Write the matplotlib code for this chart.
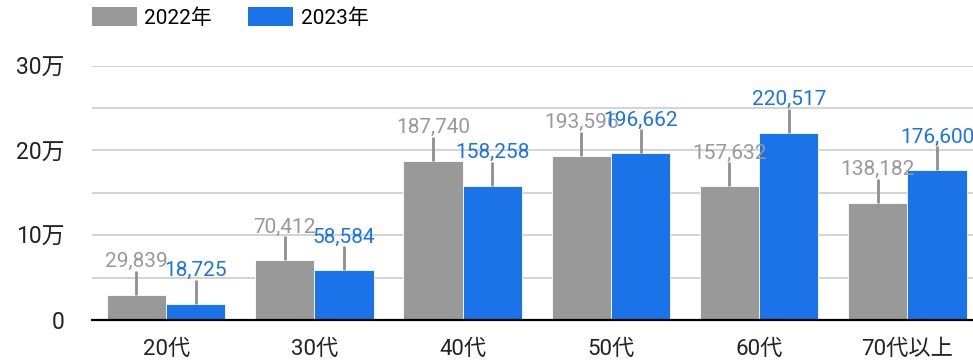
import matplotlib
matplotlib.use("Agg")
import matplotlib.pyplot as plt
import numpy as np
from matplotlib.patches import Patch

plt.rcParams['font.family'] = ['Roboto', 'Noto Sans CJK JP', 'DejaVu Sans']

categories = ["20代", "30代", "40代", "50代", "60代", "70代以上"]
series_names = ["2022年", "2023年"]
values_2022 = [29839, 70412, 187740, 193596, 157632, 138182]
values_2023 = [18725, 58584, 158258, 196662, 220517, 176600]
error_2022 = [28500, 28500, 28500, 28500, 28500, 28500]
error_2023 = [28500, 28500, 28500, 28500, 28500, 28500]
ytick_values = [0, 100000, 200000, 300000]
ytick_labels = ["0", "10万", "20万", "30万"]

W, H = 973, 362
fig = plt.figure(figsize=(W / 100, H / 100), dpi=100)
left_px, right_px = 92, 981.5
top_px, bottom_px = 65.7, 320
ax = fig.add_axes([left_px / W, 1 - bottom_px / H, (right_px - left_px) / W, (bottom_px - top_px) / H])

gray = "#999999"
blue = "#1a73e8"
err_color = "#8f8f8f"
x = np.arange(len(categories))
bw = 0.4

series = [(values_2022, error_2022, gray, -bw / 2), (values_2023, error_2023, blue, bw / 2)]
for vals, errs, col, off in series:
    ax.bar(x + off, vals, width=bw, color=col, edgecolor="white", linewidth=0.6, zorder=2)
    ax.errorbar(x + off, vals, yerr=[np.zeros(len(vals)), errs], fmt="none",
                ecolor=err_color, elinewidth=2.0, capsize=0, zorder=3)
for vals, errs, col, off in series:
    for xi, v in zip(x, vals):
        ax.annotate(f"{v:,}", (xi + off, v), xytext=(0, 20), textcoords="offset points",
                    ha="center", va="baseline", color=col, fontsize=15, zorder=4)

ax.set_xlim(-0.5, len(categories) - 0.5)
ax.set_ylim(0, 300000)
ax.set_yticks(ytick_values)
ax.set_yticklabels(ytick_labels)
ax.set_yticks([50000, 150000, 250000], minor=True)
ax.grid(axis="y", which="both", color="#cccccc", linewidth=1.2, zorder=0)
ax.set_axisbelow(True)
ax.set_xticks(x)
ax.set_xticklabels(categories)
ax.tick_params(axis="both", length=0, labelcolor="#222222")
ax.tick_params(axis="x", labelsize=16, pad=14)
ax.tick_params(axis="y", labelsize=16.5, pad=20)
ax.tick_params(axis="y", which="minor", length=0)
for s in ["top", "right", "left"]:
    ax.spines[s].set_visible(False)
ax.spines["bottom"].set_color("black")
ax.spines["bottom"].set_linewidth(1.6)
ax.spines["bottom"].set_zorder(5)

handles = [Patch(facecolor=gray, label=series_names[0]), Patch(facecolor=blue, label=series_names[1])]
fig.legend(handles=handles, loc="upper left", bbox_to_anchor=(88 / W, 1 - 3 / H), ncol=2,
           frameon=False, fontsize=15, handlelength=2.15, handleheight=1.05,
           handletextpad=0.35, columnspacing=1.75, borderaxespad=0, borderpad=0.2)

fig.savefig("out.png", dpi=100)
